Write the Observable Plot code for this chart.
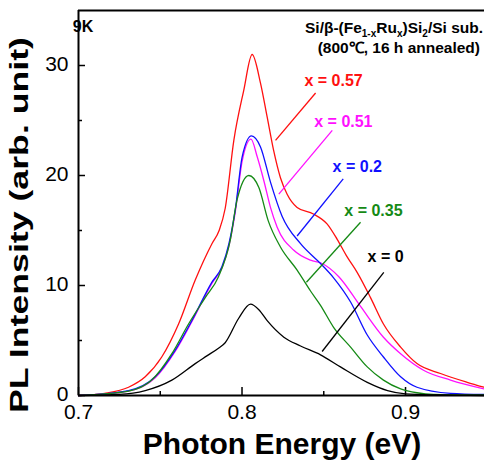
<!DOCTYPE html>
<html>
<head>
<meta charset="utf-8">
<script src="https://cdn.jsdelivr.net/npm/d3@7"></script>
<script src="https://cdn.jsdelivr.net/npm/@observablehq/plot@0.6"></script>
<style>
  html, body { margin: 0; padding: 0; background: #fff; }
  #chart svg { display: block; }
</style>
</head>
<body>
<div id="chart"></div>
<script>
// PL spectra at 9 K for Si/β-(Fe1-xRux)Si2/Si, one curve per Ru fraction x.
const seriesNames = ["x = 0.57", "x = 0.51", "x = 0.2", "x = 0.35", "x = 0"];
const seriesColors = ["#ff1010", "#ff10ff", "#1010ff", "#158a15", "#000000"];

const energy057 = [0.700, 0.716, 0.7306, 0.7408, 0.7509, 0.7612, 0.7714, 0.7816, 0.786, 0.7897, 0.795, 0.801, 0.8062, 0.8113, 0.8154, 0.8193, 0.8235, 0.8276, 0.8337, 0.8437, 0.852, 0.8582, 0.8643, 0.8704, 0.8786, 0.8865, 0.897, 0.907, 0.9214, 0.9377, 0.948];
const intensity057 = [0.0, 0.2, 0.75, 1.7, 3.5, 6.5, 10.5, 13.8, 15.0, 17.0, 23.2, 27.7, 31.0, 28.4, 25.3, 22.3, 19.8, 18.3, 17.1, 16.5, 15.6, 14.2, 12.6, 11.2, 8.9, 6.5, 4.4, 2.9, 2.0, 1.2, 0.75];

const energy051 = [0.700, 0.7306, 0.7469, 0.7591, 0.7693, 0.7816, 0.7877, 0.792, 0.7958, 0.8001, 0.8055, 0.8093, 0.8134, 0.8174, 0.8215, 0.8317, 0.8419, 0.849, 0.8592, 0.8725, 0.8865, 0.897, 0.911, 0.9275, 0.948];
const intensity051 = [0.0, 0.4, 1.6, 4.0, 6.7, 10.2, 11.6, 13.6, 16.6, 21.3, 23.3, 21.7, 19.5, 17.1, 15.3, 13.2, 12.3, 12.0, 10.8, 8.1, 5.3, 3.8, 2.3, 1.4, 0.6];

const energy020 = [0.700, 0.7306, 0.7469, 0.7591, 0.7693, 0.7816, 0.7877, 0.792, 0.7958, 0.8001, 0.8058, 0.8113, 0.8174, 0.8245, 0.8358, 0.848, 0.856, 0.8664, 0.8766, 0.8865, 0.897, 0.907, 0.9275, 0.948];
const intensity020 = [0.0, 0.45, 1.7, 4.1, 6.8, 10.3, 11.7, 13.8, 16.8, 21.7, 23.6, 22.6, 19.4, 16.3, 13.8, 12.0, 10.7, 8.5, 5.5, 3.5, 1.7, 0.75, 0.2, 0.1];

const energy035 = [0.700, 0.7306, 0.7448, 0.7571, 0.7673, 0.7775, 0.7856, 0.7928, 0.797, 0.8042, 0.8103, 0.816, 0.8235, 0.8337, 0.8419, 0.848, 0.856, 0.8664, 0.8766, 0.8865, 0.897, 0.907, 0.917, 0.948];
const intensity035 = [0.0, 0.4, 1.4, 3.8, 6.5, 8.9, 10.8, 14.1, 17.8, 20.0, 18.9, 15.9, 13.5, 11.4, 9.5, 8.2, 6.2, 4.4, 2.6, 1.4, 0.6, 0.25, 0.1, 0.05];

const energy000 = [0.700, 0.725, 0.7408, 0.7571, 0.7714, 0.7785, 0.7856, 0.7897, 0.7979, 0.8052, 0.8103, 0.8154, 0.8256, 0.8358, 0.848, 0.8602, 0.8766, 0.889, 0.900, 0.920, 0.948];
const intensity000 = [0.0, 0.1, 0.45, 1.4, 2.9, 3.6, 4.3, 4.8, 7.0, 8.3, 7.8, 6.8, 5.3, 4.5, 3.7, 2.6, 1.2, 0.45, 0.15, 0.05, 0.0];

const seriesEnergy = [energy057, energy051, energy020, energy035, energy000];
const seriesIntensity = [intensity057, intensity051, intensity020, intensity035, intensity000];

// Curve labels (position of text) and the leader line from label to curve
const labelEnergy = [0.856, 0.862, 0.8705, 0.8804, 0.8878];
const labelIntensity = [28.6, 24.9, 20.75, 16.8, 12.6];
const leaderEnergyStart = [0.845, 0.8552, 0.8619, 0.8725, 0.8867];
const leaderIntensityStart = [27.5, 24.1, 19.7, 15.75, 11.2];
const leaderEnergyEnd = [0.8205, 0.8225, 0.8337, 0.8394, 0.849];
const leaderIntensityEnd = [23.2, 18.3, 14.5, 10.3, 4.0];

// Axes
const xDomain = [0.7, 0.9483];
const yDomain = [0, 35];
const xMajorTicks = [0.7, 0.8, 0.9];
const xMinorTicks = [0.75, 0.85];
const yMajorTicks = [0, 10, 20, 30];
const yMinorTicks = [5, 15, 25];
const xLabel = "Photon Energy (eV)";
const yLabel = "PL Intensity (arb. unit)";

const W = 484, H = 460;
const mL = 78, mR = 0, mT = 10, mB = 65;
const innerW = W - mL - mR, innerH = H - mT - mB;
const font = "'Liberation Sans', Arial, Helvetica, sans-serif";

const curves = seriesNames.map((name, i) =>
  seriesEnergy[i].map((e, j) => ({series: name, energy: e, intensity: seriesIntensity[i][j]}))
);
const labels = seriesNames.map((name, i) => ({
  name, color: seriesColors[i],
  e: labelEnergy[i], v: labelIntensity[i],
  e1: leaderEnergyStart[i], v1: leaderIntensityStart[i],
  e2: leaderEnergyEnd[i], v2: leaderIntensityEnd[i]
}));

const plot = Plot.plot({
  width: W, height: H,
  marginLeft: mL, marginRight: mR, marginTop: mT, marginBottom: mB,
  style: {fontFamily: font, background: "#fff", overflow: "visible"},
  x: {domain: xDomain},
  y: {domain: yDomain},
  marks: [
    // tick labels
    Plot.axisX({ticks: xMajorTicks, tickSize: 0, tickPadding: 9, fontSize: 21, label: null,
      tickFormat: d => d.toFixed(1), fill: "#000"}),
    Plot.axisY({ticks: yMajorTicks, tickSize: 0, tickPadding: 10, fontSize: 21, label: null, fill: "#000", dy: -1}),
    // inward ticks
    Plot.tickX(xMajorTicks, {x: d => d, insetTop: innerH - 8, stroke: "#000", strokeWidth: 1.5}),
    Plot.tickX(xMinorTicks, {x: d => d, insetTop: innerH - 4, stroke: "#000", strokeWidth: 1.5}),
    Plot.tickY(yMajorTicks, {y: d => d, insetRight: innerW - 7, stroke: "#000", strokeWidth: 1.5}),
    Plot.tickY(yMinorTicks, {y: d => d, insetRight: innerW - 4, stroke: "#000", strokeWidth: 1.5}),
    // spectra
    ...curves.map((data, i) => Plot.line(data, {
      x: "energy", y: "intensity", stroke: seriesColors[i], strokeWidth: 1.3, curve: "monotone-x"
    })),
    // leader lines and labels
    Plot.link(labels, {x1: "e1", y1: "v1", x2: "e2", y2: "v2", stroke: "color", strokeWidth: 1.3}),
    Plot.text(labels, {x: "e", y: "v", text: "name", fill: "color", fontSize: 16, fontWeight: "bold"}),
    // frame: left, bottom, top
    Plot.ruleX([xDomain[0]], {stroke: "#000", strokeWidth: 2}),
    Plot.ruleY(yDomain, {stroke: "#000", strokeWidth: 2})
  ]
});

document.getElementById("chart").appendChild(plot);

// Axis titles and the sample annotation
const svg = d3.select(plot);
const g = svg.append("g").attr("font-family", font).attr("fill", "#000").attr("font-weight", "bold");

g.append("text")
  .attr("x", 282).attr("y", 454)
  .attr("text-anchor", "middle").attr("font-size", 30)
  .text(xLabel);

g.append("text")
  .attr("transform", `translate(28,${225}) rotate(-90)`)
  .attr("text-anchor", "middle").attr("font-size", 25)
  .attr("textLength", 376).attr("lengthAdjust", "spacingAndGlyphs")
  .text(yLabel);

g.append("text")
  .attr("x", 83).attr("y", 32).attr("font-size", 16)
  .text("9K");

const t1 = g.append("text").attr("x", 483).attr("y", 33).attr("text-anchor", "end").attr("font-size", 15.5);
t1.append("tspan").text("Si/β-(Fe");
t1.append("tspan").attr("font-size", 10).attr("dy", 4).text("1-x");
t1.append("tspan").attr("dy", -4).text("Ru");
t1.append("tspan").attr("font-size", 10).attr("dy", 4).text("x");
t1.append("tspan").attr("dy", -4).text(")Si");
t1.append("tspan").attr("font-size", 10).attr("dy", 4).text("2");
t1.append("tspan").attr("dy", -4).text("/Si sub.");

g.append("text").attr("x", 480).attr("y", 53).attr("text-anchor", "end").attr("font-size", 15.5)
  .text("(800℃, 16 h annealed)");
</script>
</body>
</html>
